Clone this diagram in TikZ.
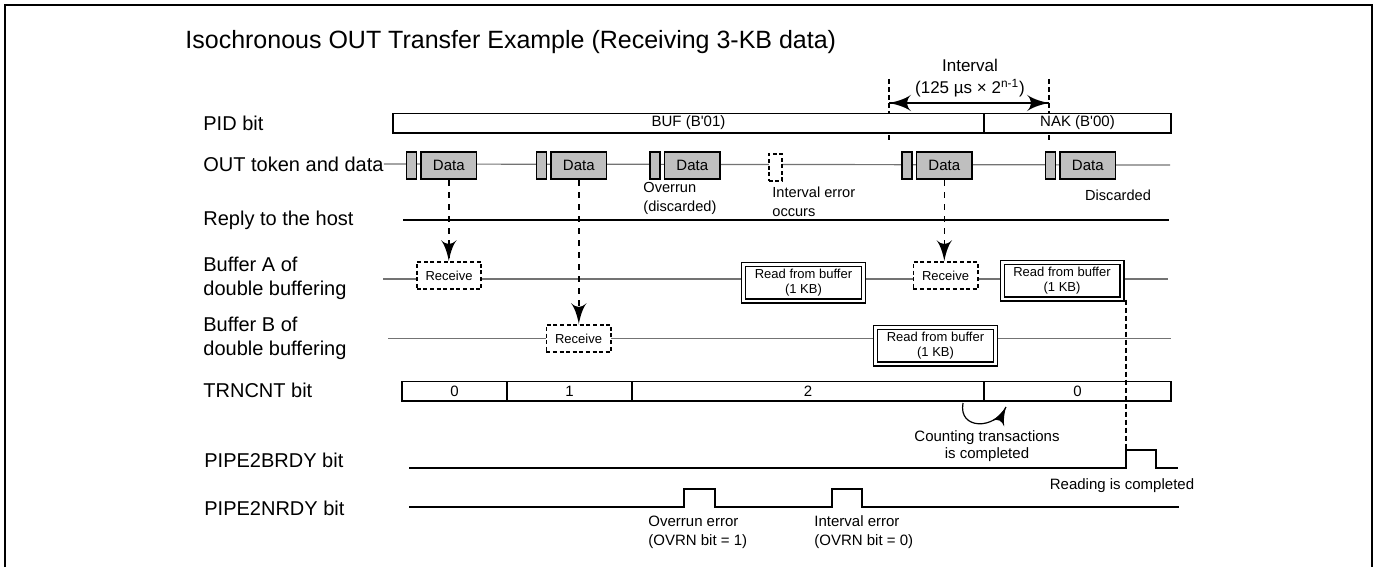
\documentclass[tikz,border=0pt]{standalone}
\usepackage{fontspec}
\setmainfont{Liberation Sans}
\usetikzlibrary{arrows}
\usetikzlibrary{decorations.markings}
\usetikzlibrary{positioning}
\tikzset{endtip/.style = {decoration={markings,
                                      mark=at position 0.999 with {\arrow[scale=#1]{latex'}}},
                          postaction={decorate}},
         endtip/.default = 2}
\tikzset{bothtips/.style = {decoration={markings,
                                        mark=at position 0 with {\arrowreversed[scale=#1]{latex'}},
                                        mark=at position 1 with {\arrow[scale=#1]{latex'}}},
                            postaction={decorate}}}
\tikzset{rowlabel/.style = {anchor=west, inner sep=0, align=left, font=\fontsize{10}{12}\selectfont},
         token/.style = {draw, line width=0.8pt, fill=boxgray, minimum width=5pt, minimum height=13.7pt, inner sep=0},
         databox/.style = {token, minimum width=27.7pt, font=\fontsize{7.5}{9}\selectfont},
         rcvbox/.style = {draw, line width=0.8pt, dash pattern=on 2pt off 1.3pt, fill=white, minimum width=32.2pt, minimum height=13.7pt, inner sep=0, font=\fontsize{6.5}{7.5}\selectfont},
         readbox/.style = {draw, double, line width=0.6pt, double distance=1.4pt, fill=white, minimum width=59.9pt, minimum height=18.4pt, inner sep=0, align=center, font=\fontsize{6.5}{7.5}\selectfont},
         bitbar/.style = {draw, line width=0.9pt, fill=white, minimum height=9.6pt, inner sep=0, font=\fontsize{7.5}{9}\selectfont},
         note/.style = {inner sep=0, align=left, font=\fontsize{7.3}{9.5}\selectfont},
         timeline/.style = {linegray, line width=0.6pt},
         signal/.style = {line width=0.9pt}}
\definecolor{boxgray}{gray}{0.75}
\definecolor{linegray}{gray}{0.45}

\begin{document}
\begin{tikzpicture}[x=0.5pt, y=-0.5pt]
  \useasboundingbox (0, 0) rectangle (1374, 567);
  \draw [line width=1pt] (5, 567) -- (5, 5) -- (1372, 5) -- (1372, 567);
  \node [anchor=base west, inner sep=0, font=\fontsize{12.5}{14}\selectfont] (title) at (185, 49)
    {Isochronous OUT Transfer Example (Receiving 3-KB data)};

  % row names
  \node [rowlabel] (pidlbl) at (203, 123) {PID bit};
  \node [rowlabel] (outlbl) at (203, 164) {OUT token and data};
  \node [rowlabel] (replylbl) at (203, 220) {Reply to the host};
  \node [rowlabel] (bufalbl) at (203, 278) {Buffer A of\\double buffering};
  \node [rowlabel] (bufblbl) at (203, 338) {Buffer B of\\double buffering};
  \node [rowlabel] (trnlbl) at (203, 390) {TRNCNT bit};
  \node [rowlabel] (brdylbl) at (204, 460) {PIPE2BRDY bit};
  \node [rowlabel] (nrdylbl) at (204, 508) {PIPE2NRDY bit};

  % interval
  \coordinate (ivleft) at (889, 79);
  \coordinate (ivright) at (1049, 79);
  \draw [line width=0.6pt, dash pattern=on 2.5pt off 1.5pt] (ivleft) -- (889, 141);
  \draw [line width=0.6pt, dash pattern=on 2.5pt off 1.5pt] (ivright) -- (1049, 141);
  \draw [line width=0.6pt, bothtips=2.4] (889, 103) -- (1049, 103);
  \node [note, align=center, font=\fontsize{8.5}{11}\selectfont] (ivtxt) at (970, 78)
    {Interval\\(125 µs × 2\textsuperscript{n-1})};

  % PID bit
  \node [bitbar, minimum width=295.5pt] (pidbuf) at (688.5, 123) {BUF (B\textquotesingle 01)};
  \node [bitbar, minimum width=93.5pt] (pidnak) at (1077.5, 123) {NAK (B\textquotesingle 00)};

  % OUT token and data
  \coordinate (outend) at (1170, 165);
  \draw [timeline] (outlbl.east) -- (outend);
  \node [token] (tok1) at (411.5, 165.5) {};
  \node [databox, right=1.5pt of tok1] (dat1) {Data};
  \node [token] (tok2) at (541.5, 165.5) {};
  \node [databox, right=1.5pt of tok2] (dat2) {Data};
  \node [token] (tok3) at (655, 165.5) {};
  \node [databox, right=1.5pt of tok3] (dat3) {Data};
  \node [draw, line width=0.8pt, dash pattern=on 2pt off 1.3pt, fill=white, minimum width=6.7pt, minimum height=13.7pt, inner sep=0] (lost) at (775.5, 167.5) {};
  \node [token] (tok4) at (907, 165.5) {};
  \node [databox, right=1.5pt of tok4] (dat4) {Data};
  \node [token] (tok5) at (1050.5, 165.5) {};
  \node [databox, right=1.5pt of tok5] (dat5) {Data};
  \node [note, anchor=west] (ovrtxt) at (643, 198.5) {Overrun\\(discarded)};
  \node [note, anchor=west] (losttxt) at (772, 202) {Interval error\\occurs};
  \node [note] (disctxt) at (1118, 195) {Discarded};

  % reply
  \draw [line width=0.6pt] (403, 220) coordinate (replyin) -- (1169, 220) coordinate (replyend);

  % buffers
  \draw [timeline] (383, 279) coordinate (bufain) -- (1168, 279) coordinate (bufaend);
  \draw [timeline] (388, 338.5) coordinate (bufbin) -- (1171, 338.5) coordinate (bufbend);
  \node [rcvbox] (rcva1) at (449, 275.5) {Receive};
  \node [readbox] (rda1) at (803.5, 282.5) {Read from buffer\\(1 KB)};
  \node [rcvbox] (rcva2) at (945.5, 275.5) {Receive};
  \node [readbox] (rda2) at (1062, 280.5) {Read from buffer\\(1 KB)};
  \node [rcvbox] (rcvb) at (578.5, 338.5) {Receive};
  \node [readbox] (rdb) at (935.5, 345.5) {Read from buffer\\(1 KB)};
  \draw [dashed, line width=0.8pt, endtip] (dat1.south) -- (dat1.south |- rcva1.north);
  \draw [dashed, line width=0.8pt, endtip] (dat2.south) -- (dat2.south |- rcvb.north);
  \draw [dashed, line width=0.8pt, endtip] (dat4.south) -- (dat4.south |- rcva2.north);

  % TRNCNT bit
  \node [bitbar, minimum width=52.5pt] (cnt0) at (454.5, 391) {0};
  \node [bitbar, minimum width=62.5pt] (cnt1) at (569.5, 391) {1};
  \node [bitbar, minimum width=176pt] (cnt2) at (808, 391) {2};
  \node [bitbar, minimum width=93.5pt] (cnt3) at (1077.5, 391) {0};
  \draw [line width=0.6pt, endtip=2] (963, 403) .. controls (958, 430) and (995, 430) .. (1006, 407);
  \node [note, align=center, font=\fontsize{7.5}{8.5}\selectfont] (cntnote) at (987, 446)
    {Counting transactions\\is completed};

  % PIPE2BRDY / PIPE2NRDY
  \coordinate (brdyup) at (1126, 450);
  \draw [line width=0.6pt, dash pattern=on 2.5pt off 1.5pt] (brdyup |- rda2.south) -- (brdyup);
  \draw [signal] (409, 468) -- (1126, 468) -- (brdyup) -- (1156, 450) -- (1156, 468) -- (1178, 468);
  \node [note, font=\fontsize{7.5}{9}\selectfont] (readnote) at (1122, 486) {Reading is completed};
  \draw [signal] (409, 507) -- (684, 507) -- (684, 489) -- (715, 489) -- (715, 507)
    -- (832, 507) -- (832, 489) -- (862, 489) -- (862, 507) -- (1179, 507);
  \node [note, anchor=west, font=\fontsize{7.5}{9.5}\selectfont] (ovrnote) at (648, 532.5) {Overrun error\\(OVRN bit = 1)};
  \node [note, anchor=west, font=\fontsize{7.5}{9.5}\selectfont] (ivlnote) at (814, 532.5) {Interval error\\(OVRN bit = 0)};
\end{tikzpicture}
\end{document}
